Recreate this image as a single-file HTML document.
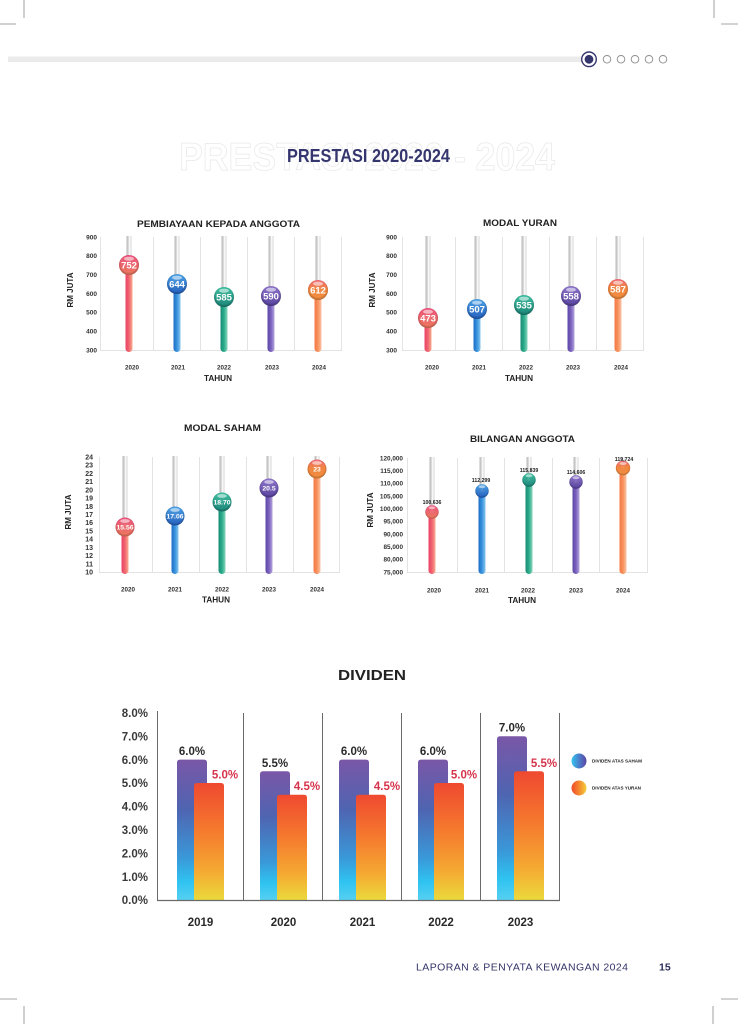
<!DOCTYPE html>
<html><head><meta charset="utf-8"><style>
html,body{margin:0;padding:0;background:#fff;}
svg{display:block;font-family:"Liberation Sans",Arial,sans-serif;}
</style></head><body>
<svg width="738" height="1024" viewBox="0 0 738 1024" xmlns="http://www.w3.org/2000/svg">
<defs>
<linearGradient id="gs" x1="0" y1="0" x2="1" y2="0"><stop offset="0" stop-color="#b5b5b5"/><stop offset=".4" stop-color="#d8d8d8"/><stop offset=".65" stop-color="#ffffff"/><stop offset="1" stop-color="#cdcdcd"/></linearGradient>
<linearGradient id="sRed" x1="0" y1="0" x2="1" y2="0"><stop offset="0" stop-color="#ea4266"/><stop offset=".5" stop-color="#f06570"/><stop offset="1" stop-color="#f9ad8e"/></linearGradient>
<linearGradient id="sBlue" x1="0" y1="0" x2="1" y2="0"><stop offset="0" stop-color="#1d6cc5"/><stop offset=".5" stop-color="#3893dd"/><stop offset="1" stop-color="#88c6f0"/></linearGradient>
<linearGradient id="sGreen" x1="0" y1="0" x2="1" y2="0"><stop offset="0" stop-color="#188a74"/><stop offset=".5" stop-color="#2cad8c"/><stop offset="1" stop-color="#88d4bc"/></linearGradient>
<linearGradient id="sPurple" x1="0" y1="0" x2="1" y2="0"><stop offset="0" stop-color="#5c46a5"/><stop offset=".5" stop-color="#7a62be"/><stop offset="1" stop-color="#b6a6de"/></linearGradient>
<linearGradient id="sOrange" x1="0" y1="0" x2="1" y2="0"><stop offset="0" stop-color="#f47846"/><stop offset=".5" stop-color="#f7925c"/><stop offset="1" stop-color="#fcc5a8"/></linearGradient>
<linearGradient id="bRed" x1="0" y1="0" x2="0" y2="1"><stop offset="0" stop-color="#f0527e"/><stop offset="1" stop-color="#f17c5e"/></linearGradient>
<linearGradient id="bBlue" x1="0" y1="0" x2="0" y2="1"><stop offset="0" stop-color="#4aa4e9"/><stop offset="1" stop-color="#2660c0"/></linearGradient>
<linearGradient id="bGreen" x1="0" y1="0" x2="0" y2="1"><stop offset="0" stop-color="#3ec1a2"/><stop offset="1" stop-color="#1c877a"/></linearGradient>
<linearGradient id="bPurple" x1="0" y1="0" x2="0" y2="1"><stop offset="0" stop-color="#8f76cd"/><stop offset="1" stop-color="#5843a0"/></linearGradient>
<linearGradient id="bOrange" x1="0" y1="0" x2="0" y2="1"><stop offset="0" stop-color="#f46a78"/><stop offset=".45" stop-color="#f6873f"/><stop offset="1" stop-color="#f59040"/></linearGradient>
<radialGradient id="shade" cx=".5" cy=".45" r=".55"><stop offset="0" stop-color="#fff" stop-opacity=".12"/><stop offset=".72" stop-color="#000" stop-opacity="0"/><stop offset="1" stop-color="#000" stop-opacity=".28"/></radialGradient>
<linearGradient id="dP" x1="0" y1="0" x2="0" y2="1"><stop offset="0" stop-color="#7a57a7"/><stop offset=".35" stop-color="#4f64b1"/><stop offset=".7" stop-color="#3a98d8"/><stop offset=".87" stop-color="#2fc3f0"/><stop offset="1" stop-color="#55d0f2"/></linearGradient>
<linearGradient id="dO" x1="0" y1="0" x2="0" y2="1"><stop offset="0" stop-color="#ef4930"/><stop offset=".4" stop-color="#f5792e"/><stop offset=".75" stop-color="#f5a932"/><stop offset="1" stop-color="#ebd93b"/></linearGradient>
<linearGradient id="lP" x1="0" y1="0" x2="1" y2="0"><stop offset="0" stop-color="#33c6f0"/><stop offset=".5" stop-color="#4a7fcc"/><stop offset="1" stop-color="#5a45a2"/></linearGradient>
<linearGradient id="lO" x1="0" y1="0" x2="1" y2="0"><stop offset="0" stop-color="#ef4a2e"/><stop offset=".5" stop-color="#f5872f"/><stop offset="1" stop-color="#f3d03a"/></linearGradient>
</defs>

<!-- crop marks -->
<g stroke="#8a8a8a" stroke-width=".8">
<line x1="24" y1="0" x2="24" y2="18"/><line x1="0" y1="24" x2="16" y2="24"/>
<line x1="714" y1="0" x2="714" y2="18"/><line x1="721" y1="24" x2="738" y2="24"/>
<line x1="0" y1="999" x2="17" y2="999"/><line x1="24" y1="1006" x2="24" y2="1024"/>
<line x1="721" y1="999" x2="738" y2="999"/><line x1="713" y1="1006" x2="713" y2="1024"/>
</g>

<!-- progress bar -->
<rect x="8" y="56.5" width="575" height="5.5" fill="#ebebeb"/>
<circle cx="589" cy="59.3" r="7.3" fill="#fff" stroke="#35356e" stroke-width="1.4"/>
<circle cx="589" cy="59.3" r="4.4" fill="#35356e"/>
<g fill="none" stroke="#8c8c8c" stroke-width=".9">
<circle cx="607" cy="59.3" r="3.8"/><circle cx="621" cy="59.3" r="3.8"/><circle cx="635" cy="59.3" r="3.8"/><circle cx="649" cy="59.3" r="3.8"/><circle cx="663" cy="59.3" r="3.8"/>
</g>

<!-- title -->
<text x="179" y="170" font-size="39" font-weight="bold" fill="none" stroke="#e9e9e9" stroke-width=".8" textLength="376" lengthAdjust="spacingAndGlyphs">PRESTASI 2020 - 2024</text>
<text x="287" y="162" font-size="18" font-weight="bold" fill="#36366f" textLength="163" lengthAdjust="spacingAndGlyphs">PRESTASI 2020-2024</text>

<!-- ============ CHART 1 ============ -->
<text x="137" y="227" font-size="9.5" font-weight="bold" fill="#222" textLength="163" lengthAdjust="spacingAndGlyphs">PEMBIAYAAN KEPADA ANGGOTA</text>
<g stroke="#e3e3e3" stroke-width="1">
<line x1="100.5" y1="237" x2="100.5" y2="350"/><line x1="153.5" y1="237" x2="153.5" y2="350"/><line x1="200.5" y1="237" x2="200.5" y2="350"/><line x1="247.5" y1="237" x2="247.5" y2="350"/><line x1="294.5" y1="237" x2="294.5" y2="350"/><line x1="341.5" y1="237" x2="341.5" y2="350"/>
<line x1="100" y1="350.5" x2="342" y2="350.5"/>
</g>
<g font-size="6.5" font-weight="bold" fill="#333" text-anchor="end">
<text x="97" y="239.3">900</text><text x="97" y="258.1">800</text><text x="97" y="277">700</text><text x="97" y="295.8">600</text><text x="97" y="314.6">500</text><text x="97" y="333.5">400</text><text x="97" y="352.3">300</text>
</g>
<g font-size="6.3" font-weight="bold" fill="#333" text-anchor="middle">
<text x="132" y="369.3">2020</text><text x="178" y="369.3">2021</text><text x="224" y="369.3">2022</text><text x="272" y="369.3">2023</text><text x="319" y="369.3">2024</text>
</g>
<text x="218" y="381" font-size="8.2" font-weight="bold" fill="#222" text-anchor="middle">TAHUN</text>
<text transform="translate(72.9,290) rotate(-90)" font-size="8" font-weight="bold" fill="#222" text-anchor="middle">RM JUTA</text>
<!-- sticks -->
<g fill="url(#gs)">
<rect x="126.5" y="236" width="5" height="29"/><rect x="174.5" y="236" width="5" height="48"/><rect x="221.5" y="236" width="5" height="61"/><rect x="268.5" y="236" width="5" height="60"/><rect x="315.5" y="236" width="5" height="54"/>
</g>
<rect x="125.5" y="265" width="7" height="87" rx="3.5" fill="url(#sRed)"/>
<rect x="173.5" y="284" width="7" height="68" rx="3.5" fill="url(#sBlue)"/>
<rect x="220.5" y="297" width="7" height="55" rx="3.5" fill="url(#sGreen)"/>
<rect x="267.5" y="296" width="7" height="56" rx="3.5" fill="url(#sPurple)"/>
<rect x="314.5" y="290" width="7" height="62" rx="3.5" fill="url(#sOrange)"/>
<!-- balls -->
<g font-size="9.5" font-weight="bold" fill="#fff" text-anchor="middle">
<g transform="translate(129,265)"><circle r="10" fill="url(#bRed)"/><circle r="10" fill="url(#shade)"/><ellipse cy="-6.3" rx="5" ry="2" fill="#fff" opacity=".55"/><text y="3.4">752</text></g>
<g transform="translate(177,284)"><circle r="10" fill="url(#bBlue)"/><circle r="10" fill="url(#shade)"/><ellipse cy="-6.3" rx="5" ry="2" fill="#fff" opacity=".55"/><text y="3.4">644</text></g>
<g transform="translate(224,297)"><circle r="10" fill="url(#bGreen)"/><circle r="10" fill="url(#shade)"/><ellipse cy="-6.3" rx="5" ry="2" fill="#fff" opacity=".55"/><text y="3.4">585</text></g>
<g transform="translate(271,296)"><circle r="10" fill="url(#bPurple)"/><circle r="10" fill="url(#shade)"/><ellipse cy="-6.3" rx="5" ry="2" fill="#fff" opacity=".55"/><text y="3.4">590</text></g>
<g transform="translate(318,290)"><circle r="10" fill="url(#bOrange)"/><circle r="10" fill="url(#shade)"/><ellipse cy="-6.3" rx="5" ry="2" fill="#fff" opacity=".55"/><text y="3.4">612</text></g>
</g>

<!-- ============ CHART 2 ============ -->
<text x="483" y="226" font-size="9.5" font-weight="bold" fill="#222" textLength="74" lengthAdjust="spacingAndGlyphs">MODAL YURAN</text>
<g stroke="#e3e3e3" stroke-width="1">
<line x1="402.5" y1="237" x2="402.5" y2="350"/><line x1="455.5" y1="237" x2="455.5" y2="350"/><line x1="502.5" y1="237" x2="502.5" y2="350"/><line x1="549.5" y1="237" x2="549.5" y2="350"/><line x1="596.5" y1="237" x2="596.5" y2="350"/><line x1="643.5" y1="237" x2="643.5" y2="350"/>
<line x1="402" y1="350.5" x2="644" y2="350.5"/>
</g>
<g font-size="6.5" font-weight="bold" fill="#333" text-anchor="end">
<text x="397" y="239.3">900</text><text x="397" y="258.1">800</text><text x="397" y="277">700</text><text x="397" y="295.8">600</text><text x="397" y="314.6">500</text><text x="397" y="333.5">400</text><text x="397" y="352.3">300</text>
</g>
<g font-size="6.3" font-weight="bold" fill="#333" text-anchor="middle">
<text x="432" y="369.3">2020</text><text x="479" y="369.3">2021</text><text x="526" y="369.3">2022</text><text x="573" y="369.3">2023</text><text x="621" y="369.3">2024</text>
</g>
<text x="519" y="381" font-size="8.2" font-weight="bold" fill="#222" text-anchor="middle">TAHUN</text>
<text transform="translate(374.9,290) rotate(-90)" font-size="8" font-weight="bold" fill="#222" text-anchor="middle">RM JUTA</text>
<g fill="url(#gs)">
<rect x="425.5" y="236" width="5" height="82"/><rect x="474.5" y="236" width="5" height="73"/><rect x="521.5" y="236" width="5" height="69"/><rect x="568.5" y="236" width="5" height="60"/><rect x="615.5" y="236" width="5" height="53"/>
</g>
<rect x="424.5" y="318" width="7" height="34" rx="3.5" fill="url(#sRed)"/>
<rect x="473.5" y="309" width="7" height="43" rx="3.5" fill="url(#sBlue)"/>
<rect x="520.5" y="305" width="7" height="47" rx="3.5" fill="url(#sGreen)"/>
<rect x="567.5" y="296" width="7" height="56" rx="3.5" fill="url(#sPurple)"/>
<rect x="614.5" y="289" width="7" height="63" rx="3.5" fill="url(#sOrange)"/>
<g font-size="9.5" font-weight="bold" fill="#fff" text-anchor="middle">
<g transform="translate(428,318)"><circle r="10" fill="url(#bRed)"/><circle r="10" fill="url(#shade)"/><ellipse cy="-6.3" rx="5" ry="2" fill="#fff" opacity=".55"/><text y="3.4">473</text></g>
<g transform="translate(477,309)"><circle r="10" fill="url(#bBlue)"/><circle r="10" fill="url(#shade)"/><ellipse cy="-6.3" rx="5" ry="2" fill="#fff" opacity=".55"/><text y="3.4">507</text></g>
<g transform="translate(524,305)"><circle r="10" fill="url(#bGreen)"/><circle r="10" fill="url(#shade)"/><ellipse cy="-6.3" rx="5" ry="2" fill="#fff" opacity=".55"/><text y="3.4">535</text></g>
<g transform="translate(571,296)"><circle r="10" fill="url(#bPurple)"/><circle r="10" fill="url(#shade)"/><ellipse cy="-6.3" rx="5" ry="2" fill="#fff" opacity=".55"/><text y="3.4">558</text></g>
<g transform="translate(618,289)"><circle r="10" fill="url(#bOrange)"/><circle r="10" fill="url(#shade)"/><ellipse cy="-6.3" rx="5" ry="2" fill="#fff" opacity=".55"/><text y="3.4">587</text></g>
</g>

<!-- ============ CHART 3 ============ -->
<text x="184" y="431" font-size="9.5" font-weight="bold" fill="#222" textLength="77" lengthAdjust="spacingAndGlyphs">MODAL SAHAM</text>
<g stroke="#e3e3e3" stroke-width="1">
<line x1="99.5" y1="457" x2="99.5" y2="572"/><line x1="152.5" y1="457" x2="152.5" y2="572"/><line x1="199.5" y1="457" x2="199.5" y2="572"/><line x1="246.5" y1="457" x2="246.5" y2="572"/><line x1="293.5" y1="457" x2="293.5" y2="572"/><line x1="339.5" y1="457" x2="339.5" y2="572"/>
<line x1="99" y1="572.5" x2="340" y2="572.5"/>
</g>
<g font-size="7" font-weight="bold" fill="#333" text-anchor="end">
<text x="93" y="459.5">24</text><text x="93" y="467.7">23</text><text x="93" y="475.9">22</text><text x="93" y="484.1">21</text><text x="93" y="492.4">20</text><text x="93" y="500.6">19</text><text x="93" y="508.8">18</text><text x="93" y="517">17</text><text x="93" y="525.2">16</text><text x="93" y="533.4">15</text><text x="93" y="541.6">14</text><text x="93" y="549.9">13</text><text x="93" y="558.1">12</text><text x="93" y="566.3">11</text><text x="93" y="574.5">10</text>
</g>
<g font-size="6.3" font-weight="bold" fill="#333" text-anchor="middle">
<text x="128" y="591.5">2020</text><text x="175" y="591.5">2021</text><text x="222" y="591.5">2022</text><text x="269" y="591.5">2023</text><text x="317" y="591.5">2024</text>
</g>
<text x="216" y="602.3" font-size="8.2" font-weight="bold" fill="#222" text-anchor="middle">TAHUN</text>
<text transform="translate(70.9,512) rotate(-90)" font-size="8" font-weight="bold" fill="#222" text-anchor="middle">RM JUTA</text>
<g fill="url(#gs)">
<rect x="122.5" y="456" width="5" height="71"/><rect x="172.5" y="456" width="5" height="60"/><rect x="219.5" y="456" width="5" height="46"/><rect x="266.5" y="456" width="5" height="32"/><rect x="314.5" y="456" width="5" height="13"/>
</g>
<rect x="121.5" y="527" width="7" height="47" rx="3.5" fill="url(#sRed)"/>
<rect x="171.5" y="516" width="7" height="58" rx="3.5" fill="url(#sBlue)"/>
<rect x="218.5" y="502" width="7" height="72" rx="3.5" fill="url(#sGreen)"/>
<rect x="265.5" y="488" width="7" height="86" rx="3.5" fill="url(#sPurple)"/>
<rect x="313.5" y="469" width="7" height="105" rx="3.5" fill="url(#sOrange)"/>
<g font-size="6.8" font-weight="bold" fill="#fff" text-anchor="middle">
<g transform="translate(125,527)"><circle r="9.5" fill="url(#bRed)"/><circle r="9.5" fill="url(#shade)"/><ellipse cy="-6" rx="4.8" ry="1.9" fill="#fff" opacity=".55"/><text y="2.5">15.56</text></g>
<g transform="translate(175,516)"><circle r="9.5" fill="url(#bBlue)"/><circle r="9.5" fill="url(#shade)"/><ellipse cy="-6" rx="4.8" ry="1.9" fill="#fff" opacity=".55"/><text y="2.5">17.06</text></g>
<g transform="translate(222,502)"><circle r="9.5" fill="url(#bGreen)"/><circle r="9.5" fill="url(#shade)"/><ellipse cy="-6" rx="4.8" ry="1.9" fill="#fff" opacity=".55"/><text y="2.5">18.70</text></g>
<g transform="translate(269,488)"><circle r="9.5" fill="url(#bPurple)"/><circle r="9.5" fill="url(#shade)"/><ellipse cy="-6" rx="4.8" ry="1.9" fill="#fff" opacity=".55"/><text y="2.5">20.5</text></g>
<g transform="translate(317,469)"><circle r="9.5" fill="url(#bOrange)"/><circle r="9.5" fill="url(#shade)"/><ellipse cy="-6" rx="4.8" ry="1.9" fill="#fff" opacity=".55"/><text y="2.5">23</text></g>
</g>

<!-- ============ CHART 4 ============ -->
<text x="470" y="442" font-size="9.5" font-weight="bold" fill="#222" textLength="105" lengthAdjust="spacingAndGlyphs">BILANGAN ANGGOTA</text>
<g stroke="#e3e3e3" stroke-width="1">
<line x1="407.5" y1="458" x2="407.5" y2="572"/><line x1="457.5" y1="458" x2="457.5" y2="572"/><line x1="504.5" y1="458" x2="504.5" y2="572"/><line x1="552.5" y1="458" x2="552.5" y2="572"/><line x1="599.5" y1="458" x2="599.5" y2="572"/><line x1="647.5" y1="458" x2="647.5" y2="572"/>
<line x1="407" y1="572.5" x2="648" y2="572.5"/>
</g>
<g font-size="6.4" font-weight="bold" fill="#333" text-anchor="end">
<text x="403" y="460.3">120,000</text><text x="403" y="473">115,000</text><text x="403" y="485.6">110,000</text><text x="403" y="498.3">105,000</text><text x="403" y="511">100,000</text><text x="403" y="523.6">95,000</text><text x="403" y="536.3">90,000</text><text x="403" y="549">85,000</text><text x="403" y="561.6">80,000</text><text x="403" y="574.3">75,000</text>
</g>
<g font-size="6.3" font-weight="bold" fill="#333" text-anchor="middle">
<text x="434" y="592.3">2020</text><text x="482" y="592.3">2021</text><text x="528" y="592.3">2022</text><text x="576" y="592.3">2023</text><text x="623" y="592.3">2024</text>
</g>
<text x="522" y="603" font-size="8.2" font-weight="bold" fill="#222" text-anchor="middle">TAHUN</text>
<text transform="translate(372.9,510) rotate(-90)" font-size="8" font-weight="bold" fill="#222" text-anchor="middle">RM JUTA</text>
<g fill="url(#gs)">
<rect x="429.5" y="457" width="5" height="55"/><rect x="479.5" y="457" width="5" height="34"/><rect x="526.5" y="457" width="5" height="23"/><rect x="573.5" y="457" width="5" height="25"/><rect x="620.5" y="457" width="5" height="11"/>
</g>
<rect x="428.5" y="512" width="7" height="62" rx="3.5" fill="url(#sRed)"/>
<rect x="478.5" y="491" width="7" height="83" rx="3.5" fill="url(#sBlue)"/>
<rect x="525.5" y="480" width="7" height="94" rx="3.5" fill="url(#sGreen)"/>
<rect x="572.5" y="482" width="7" height="92" rx="3.5" fill="url(#sPurple)"/>
<rect x="619.5" y="468" width="7" height="106" rx="3.5" fill="url(#sOrange)"/>
<g>
<g transform="translate(432,512)"><circle r="6.7" fill="url(#bRed)"/><circle r="6.7" fill="url(#shade)"/><ellipse cy="-4.2" rx="3.4" ry="1.4" fill="#fff" opacity=".55"/></g>
<g transform="translate(482,491)"><circle r="6.7" fill="url(#bBlue)"/><circle r="6.7" fill="url(#shade)"/><ellipse cy="-4.2" rx="3.4" ry="1.4" fill="#fff" opacity=".55"/></g>
<g transform="translate(529,480)"><circle r="6.7" fill="url(#bGreen)"/><circle r="6.7" fill="url(#shade)"/><ellipse cy="-4.2" rx="3.4" ry="1.4" fill="#fff" opacity=".55"/></g>
<g transform="translate(576,482)"><circle r="6.7" fill="url(#bPurple)"/><circle r="6.7" fill="url(#shade)"/><ellipse cy="-4.2" rx="3.4" ry="1.4" fill="#fff" opacity=".55"/></g>
<g transform="translate(623,468)"><circle r="7.2" fill="url(#bOrange)"/><circle r="7.2" fill="url(#shade)"/><ellipse cy="-4.5" rx="3.6" ry="1.5" fill="#fff" opacity=".55"/></g>
</g>
<g font-size="5.2" font-weight="bold" fill="#222" text-anchor="middle">
<text x="432" y="503.8">100,636</text><text x="481" y="481.8">112,299</text><text x="529" y="471.8">115,839</text><text x="576" y="473.8">114,606</text><text x="624" y="460.8">119,724</text>
</g>

<!-- ============ DIVIDEN ============ -->
<text x="338" y="680" font-size="15" font-weight="bold" fill="#222" textLength="68" lengthAdjust="spacingAndGlyphs">DIVIDEN</text>
<g font-size="11.5" font-weight="bold" fill="#3a3a3a" text-anchor="end">
<text x="148" y="717">8.0%</text><text x="148" y="740.4">7.0%</text><text x="148" y="763.8">6.0%</text><text x="148" y="787.2">5.0%</text><text x="148" y="810.6">4.0%</text><text x="148" y="834">3.0%</text><text x="148" y="857.4">2.0%</text><text x="148" y="880.8">1.0%</text><text x="148" y="904.2">0.0%</text>
</g>
<!-- bars -->
<path d="M177 900V762.6q0-3 3-3h24q3 0 3 3V900Z" fill="url(#dP)"/>
<path d="M194 900V786q0-3 3-3h24q3 0 3 3V900Z" fill="url(#dO)"/>
<path d="M260 900V774.3q0-3 3-3h24q3 0 3 3V900Z" fill="url(#dP)"/>
<path d="M277 900V797.7q0-3 3-3h24q3 0 3 3V900Z" fill="url(#dO)"/>
<path d="M339 900V762.6q0-3 3-3h24q3 0 3 3V900Z" fill="url(#dP)"/>
<path d="M356 900V797.7q0-3 3-3h24q3 0 3 3V900Z" fill="url(#dO)"/>
<path d="M418 900V762.6q0-3 3-3h24q3 0 3 3V900Z" fill="url(#dP)"/>
<path d="M434 900V786q0-3 3-3h24q3 0 3 3V900Z" fill="url(#dO)"/>
<path d="M497 900V739.2q0-3 3-3h24q3 0 3 3V900Z" fill="url(#dP)"/>
<path d="M514 900V774.3q0-3 3-3h24q3 0 3 3V900Z" fill="url(#dO)"/>
<!-- axes -->
<g stroke="#6a6a6a" stroke-width="1">
<line x1="157.5" y1="711" x2="157.5" y2="900"/>
<line x1="243.5" y1="713" x2="243.5" y2="900"/><line x1="322.5" y1="713" x2="322.5" y2="900"/><line x1="401.5" y1="713" x2="401.5" y2="900"/><line x1="480.5" y1="713" x2="480.5" y2="900"/><line x1="559.5" y1="713" x2="559.5" y2="900"/>
<line x1="157" y1="900.5" x2="560" y2="900.5" stroke-width="1.2"/>
</g>
<!-- bar labels -->
<g font-size="11.5" font-weight="bold" fill="#2a2a2a" text-anchor="middle">
<text x="192" y="755.1">6.0%</text><text x="275" y="766.8">5.5%</text><text x="354" y="755.1">6.0%</text><text x="433" y="755.1">6.0%</text><text x="512" y="731.7">7.0%</text>
</g>
<g font-size="11.5" font-weight="bold" fill="#d6334b" text-anchor="middle">
<text x="225" y="778.5">5.0%</text><text x="307" y="790.2">4.5%</text><text x="387" y="790.2">4.5%</text><text x="464" y="778.5">5.0%</text><text x="544" y="766.8">5.5%</text>
</g>
<g font-size="11.5" font-weight="bold" fill="#2a2a2a" text-anchor="middle">
<text x="200.5" y="926">2019</text><text x="283.5" y="926">2020</text><text x="362.5" y="926">2021</text><text x="441" y="926">2022</text><text x="520.5" y="926">2023</text>
</g>
<!-- legend -->
<circle cx="579" cy="761" r="7.5" fill="url(#lP)"/>
<circle cx="579" cy="788" r="7.5" fill="url(#lO)"/>
<g font-size="4.6" font-weight="bold" fill="#222">
<text x="592" y="762.6" textLength="50" lengthAdjust="spacingAndGlyphs">DIVIDEN ATAS SAHAM</text>
<text x="592" y="789.6" textLength="49" lengthAdjust="spacingAndGlyphs">DIVIDEN ATAS YURAN</text>
</g>

<!-- footer -->
<text x="416" y="970.5" font-size="10.5" fill="#34346a" textLength="212" lengthAdjust="spacing">LAPORAN &amp; PENYATA KEWANGAN 2024</text>
<text x="659" y="970.5" font-size="10.5" font-weight="bold" fill="#2d2d5c">15</text>
</svg>
</body></html>
